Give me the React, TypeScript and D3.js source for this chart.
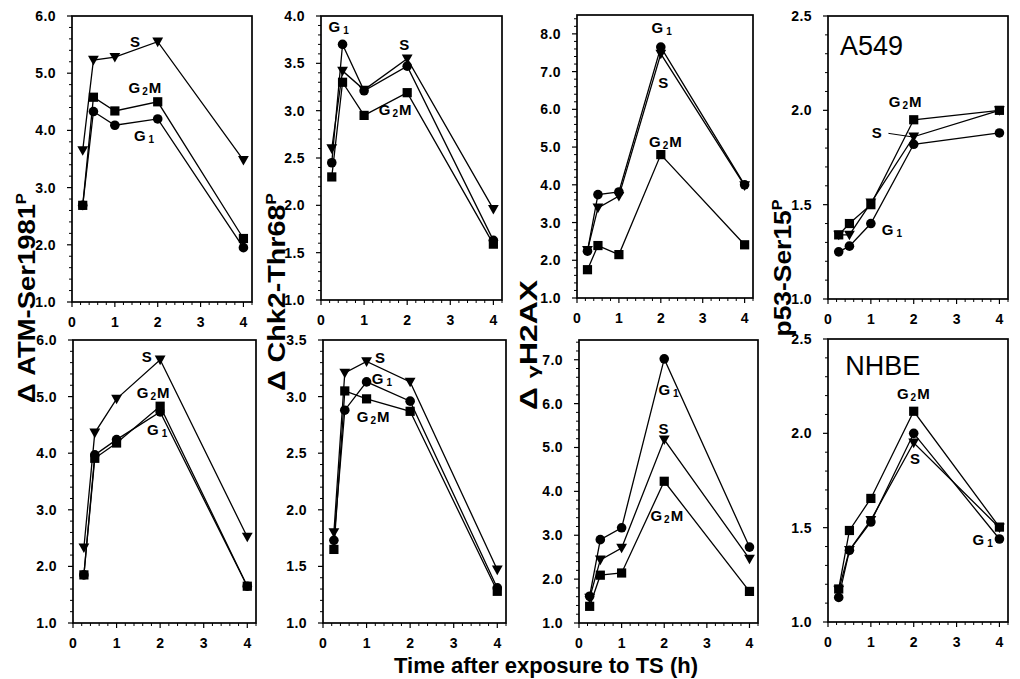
import React from "react";
import * as d3 from "d3";

// ---------- DATA ----------
const times = [0.25, 0.5, 1, 2, 4];
const xTickValues = [0, 1, 2, 3, 4];

// A549 (top row)
const atmA549G1 = [2.69, 4.33, 4.09, 4.2, 1.95];
const atmA549S = [3.65, 5.23, 5.28, 5.55, 3.48];
const atmA549G2M = [2.69, 4.58, 4.34, 4.5, 2.11];

const chkA549G1 = [2.45, 3.7, 3.21, 3.47, 1.63];
const chkA549S = [2.6, 3.42, 3.22, 3.55, 1.96];
const chkA549G2M = [2.3, 3.3, 2.95, 3.19, 1.59];

const h2axA549G1 = [2.24, 3.74, 3.81, 7.65, 4.0];
const h2axA549S = [2.27, 3.39, 3.7, 7.47, 3.98];
const h2axA549G2M = [1.75, 2.39, 2.15, 4.8, 2.41];

const p53A549G1 = [1.25, 1.28, 1.4, 1.82, 1.88];
const p53A549S = [1.34, 1.34, 1.51, 1.86, 2.0];
const p53A549G2M = [1.34, 1.4, 1.5, 1.95, 2.0];

// NHBE (bottom row)
const atmNHBEG1 = [1.85, 3.97, 4.24, 4.73, 1.65];
const atmNHBES = [2.33, 4.36, 4.96, 5.65, 2.52];
const atmNHBEG2M = [1.85, 3.91, 4.18, 4.83, 1.65];

const chkNHBEG1 = [1.73, 2.88, 3.13, 2.96, 1.31];
const chkNHBES = [1.8, 3.21, 3.31, 3.13, 1.47];
const chkNHBEG2M = [1.65, 3.05, 2.98, 2.87, 1.28];

const h2axNHBEG1 = [1.61, 2.9, 3.17, 7.02, 2.73];
const h2axNHBES = [1.57, 2.44, 2.71, 5.18, 2.46];
const h2axNHBEG2M = [1.38, 2.09, 2.14, 4.23, 1.72];

const p53NHBEG1 = [1.13, 1.38, 1.53, 2.0, 1.44];
const p53NHBES = [1.17, 1.38, 1.54, 1.95, 1.5];
const p53NHBEG2M = [1.175, 1.485, 1.655, 2.117, 1.503];

// y tick labels
const yTicksATM = [1, 2, 3, 4, 5, 6];
const yTicksChkA549 = [1, 1.5, 2, 2.5, 3, 3.5, 4];
const yTicksChkNHBE = [1, 1.5, 2, 2.5, 3, 3.5];
const yTicksH2AXA549 = [1, 2, 3, 4, 5, 6, 7, 8];
const yTicksH2AXNHBE = [1, 2, 3, 4, 5, 6, 7];
const yTicksP53 = [1, 1.5, 2, 2.5];

// series label anchors (data units: time, value)
const labelsAtmA549 = [
  { name: "S", t: 1.47, v: 5.46 },
  { name: "G2M", t: 1.7, v: 4.65 },
  { name: "G1", t: 1.68, v: 3.81 },
];
const labelsChkA549 = [
  { name: "G1", t: 0.41, v: 3.83 },
  { name: "S", t: 1.93, v: 3.64 },
  { name: "G2M", t: 1.72, v: 2.95 },
];
const labelsH2axA549 = [
  { name: "G1", t: 2.02, v: 8.02 },
  { name: "S", t: 2.06, v: 6.56 },
  { name: "G2M", t: 2.11, v: 5.01 },
];
const labelsP53A549 = [
  { name: "G2M", t: 1.8, v: 2.02 },
  { name: "S", t: 1.14, v: 1.855 },
  { name: "G1", t: 1.49, v: 1.34 },
];
const labelsAtmNHBE = [
  { name: "S", t: 1.69, v: 5.62 },
  { name: "G2M", t: 1.84, v: 4.97 },
  { name: "G1", t: 1.93, v: 4.32 },
];
const labelsChkNHBE = [
  { name: "S", t: 1.31, v: 3.3 },
  { name: "G1", t: 1.35, v: 3.11 },
  { name: "G2M", t: 1.15, v: 2.78 },
];
const labelsH2axNHBE = [
  { name: "G1", t: 2.1, v: 6.2 },
  { name: "S", t: 1.98, v: 5.31 },
  { name: "G2M", t: 2.06, v: 3.33 },
];
const labelsP53NHBE = [
  { name: "G2M", t: 1.99, v: 2.18 },
  { name: "S", t: 2.03, v: 1.84 },
  { name: "G1", t: 3.61, v: 1.41 },
];

// ---------- LAYOUT ----------
const FONT = "'Liberation Sans', Arial, Helvetica, sans-serif";

type PanelCfg = {
  L: number; R: number; T: number; B: number;
  yDomain: [number, number];
  yTicks: number[];
  minorStep: number;
  G1: number[]; S: number[]; G2M: number[];
  labels: { name: string; t: number; v: number }[];
  cell?: { text: string; t: number; v: number };
  leader?: { t1: number; v1: number; t2: number; v2: number };
};

const panels: PanelCfg[] = [
  { L: 72, R: 252, T: 16, B: 302, yDomain: [1, 6], yTicks: yTicksATM, minorStep: 0.2,
    G1: atmA549G1, S: atmA549S, G2M: atmA549G2M, labels: labelsAtmA549 },
  { L: 321, R: 502, T: 16, B: 300, yDomain: [1, 4], yTicks: yTicksChkA549, minorStep: 0.1,
    G1: chkA549G1, S: chkA549S, G2M: chkA549G2M, labels: labelsChkA549 },
  { L: 577, R: 753, T: 15, B: 298, yDomain: [1, 8.5], yTicks: yTicksH2AXA549, minorStep: 0.2,
    G1: h2axA549G1, S: h2axA549S, G2M: h2axA549G2M, labels: labelsH2axA549 },
  { L: 828, R: 1008, T: 16, B: 299, yDomain: [1, 2.5], yTicks: yTicksP53, minorStep: 0.1,
    G1: p53A549G1, S: p53A549S, G2M: p53A549G2M, labels: labelsP53A549,
    cell: { text: "A549", t: 0.28, v: 2.293 },
    leader: { t1: 1.41, v1: 1.878, t2: 2.0, v2: 1.858 } },
  { L: 73, R: 256, T: 340, B: 623, yDomain: [1, 6], yTicks: yTicksATM, minorStep: 0.2,
    G1: atmNHBEG1, S: atmNHBES, G2M: atmNHBEG2M, labels: labelsAtmNHBE },
  { L: 323, R: 506, T: 340, B: 623, yDomain: [1, 3.5], yTicks: yTicksChkNHBE, minorStep: 0.1,
    G1: chkNHBEG1, S: chkNHBES, G2M: chkNHBEG2M, labels: labelsChkNHBE },
  { L: 579, R: 758, T: 340, B: 623, yDomain: [1, 7.45], yTicks: yTicksH2AXNHBE, minorStep: 0.2,
    G1: h2axNHBEG1, S: h2axNHBES, G2M: h2axNHBEG2M, labels: labelsH2axNHBE },
  { L: 828, R: 1008, T: 339, B: 622, yDomain: [1, 2.5], yTicks: yTicksP53, minorStep: 0.1,
    G1: p53NHBEG1, S: p53NHBES, G2M: p53NHBEG2M, labels: labelsP53NHBE,
    cell: { text: "NHBE", t: 0.4, v: 2.31 } },
];

const yLabels = [
  { pre: "Δ ", greek: "", main: "ATM-Ser1981", x: 35, y: 298, len: 210, sup: true },
  { pre: "Δ ", greek: "", main: "Chk2-Thr68", x: 285, y: 292, len: 198, sup: true },
  { pre: "Δ ", greek: "γ", main: "H2AX", x: 537, y: 345, len: 130, sup: false },
  { pre: "", greek: "", main: "p53-Ser15", x: 791, y: 268, len: 137, sup: true },
];

function Marker({ kind, cx, cy }: { kind: string; cx: number; cy: number }) {
  if (kind === "G1") return <circle cx={cx} cy={cy} r={4.8} fill="#000" />;
  if (kind === "G2M")
    return <rect x={cx - 4.6} y={cy - 4.6} width={9.2} height={9.2} fill="#000" />;
  const w = 5.4, h1 = 4.2, h2 = 5.4;
  return (
    <path d={`M${cx - w},${cy - h1}L${cx + w},${cy - h1}L${cx},${cy + h2}Z`} fill="#000" />
  );
}

function SeriesLabel({ name, x, y }: { name: string; x: number; y: number }) {
  const common = { x, y, textAnchor: "middle" as const, fontFamily: FONT, fontWeight: 700, fontSize: 15, fill: "#000" };
  if (name === "S") return <text {...common}>S</text>;
  if (name === "G1")
    return (
      <text {...common}>
        G<tspan fontSize={10} dx={3} dy={2}>1</tspan>
      </text>
    );
  return (
    <text {...common}>
      G<tspan fontSize={10} dx={2} dy={2}>2</tspan>
      <tspan dx={1} dy={-2}>M</tspan>
    </text>
  );
}

function Panel({ p }: { p: PanelCfg }) {
  const x = d3.scaleLinear().domain([0, 4.2]).range([p.L, p.R]);
  const y = d3.scaleLinear().domain(p.yDomain).range([p.B, p.T]);
  const line = d3
    .line<number>()
    .x((_, i) => x(times[i]))
    .y((d) => y(d));
  const minorY = d3
    .range(p.yDomain[0], p.yDomain[1] + 1e-6, p.minorStep)
    .filter((v) => !p.yTicks.some((t) => Math.abs(t - v) < 1e-6));
  const minorX = d3
    .range(0, 4.2 + 1e-6, 0.2)
    .filter((v) => !xTickValues.some((t) => Math.abs(t - v) < 1e-6));
  const order: ("G1" | "S" | "G2M")[] = ["G1", "S", "G2M"];
  return (
    <g>
      {order.map((k) => (
        <path key={"l" + k} d={line(p[k]) || ""} fill="none" stroke="#000" strokeWidth={1.3} />
      ))}
      {order.map((k) =>
        p[k].map((v, i) => <Marker key={k + i} kind={k} cx={x(times[i])} cy={y(v)} />)
      )}
      <rect x={p.L} y={p.T} width={p.R - p.L} height={p.B - p.T} fill="none" stroke="#000" strokeWidth={1.7} />
      {p.yTicks.map((t) => (
        <g key={"yt" + t}>
          <line x1={p.L - 5} x2={p.L} y1={y(t)} y2={y(t)} stroke="#000" strokeWidth={1.2} />
          <text x={p.L - 16} y={y(t) + 5} textAnchor="end" fontFamily={FONT} fontWeight={700} fontSize={14} letterSpacing={0.4} fill="#000">
            {t.toFixed(1)}
          </text>
        </g>
      ))}
      {minorY.map((t) => (
        <line key={"ym" + t} x1={p.L - 3} x2={p.L} y1={y(t)} y2={y(t)} stroke="#000" strokeWidth={1} />
      ))}
      {xTickValues.map((t) => (
        <g key={"xt" + t}>
          <line x1={x(t)} x2={x(t)} y1={p.B} y2={p.B + 5} stroke="#000" strokeWidth={1.2} />
          <text x={x(t)} y={p.B + 25} textAnchor="middle" fontFamily={FONT} fontWeight={700} fontSize={14} fill="#000">
            {t}
          </text>
        </g>
      ))}
      {minorX.map((t) => (
        <line key={"xm" + t} x1={x(t)} x2={x(t)} y1={p.B} y2={p.B + 3} stroke="#000" strokeWidth={1} />
      ))}
      {p.labels.map((l) => (
        <SeriesLabel key={"lab" + l.name} name={l.name} x={x(l.t)} y={y(l.v)} />
      ))}
      {p.leader && (
        <line x1={x(p.leader.t1)} y1={y(p.leader.v1)} x2={x(p.leader.t2)} y2={y(p.leader.v2)} stroke="#000" strokeWidth={1} />
      )}
      {p.cell && (
        <text x={x(p.cell.t)} y={y(p.cell.v)} fontFamily={FONT} fontSize={27} fill="#000">
          {p.cell.text}
        </text>
      )}
    </g>
  );
}

export default function App() {
  return (
    <svg width={1020} height={679} style={{ position: "absolute", left: 0, top: 0, background: "#fff" }}>
      <rect width={1020} height={679} fill="#fff" />
      {panels.map((p, i) => (
        <Panel key={i} p={p} />
      ))}
      {yLabels.map((l, i) => (
        <text
          key={i}
          transform={`translate(${l.x},${l.y}) rotate(-90)`}
          textAnchor="middle"
          fontFamily={FONT}
          fontWeight={700}
          fontSize={23}
          fill="#000"
          textLength={l.len}
          lengthAdjust="spacingAndGlyphs"
        >
          {l.pre}
          {l.greek && (
            <tspan fontSize={17} dy={2}>
              {l.greek}
            </tspan>
          )}
          {l.greek ? <tspan dy={-2}>{l.main}</tspan> : l.main}
          {l.sup && (
            <tspan fontSize={14} dy={-9}>
              P
            </tspan>
          )}
        </text>
      ))}
      <text x={546} y={673} textAnchor="middle" fontFamily={FONT} fontWeight={700} fontSize={22} fill="#000">
        Time after exposure to TS (h)
      </text>
    </svg>
  );
}
